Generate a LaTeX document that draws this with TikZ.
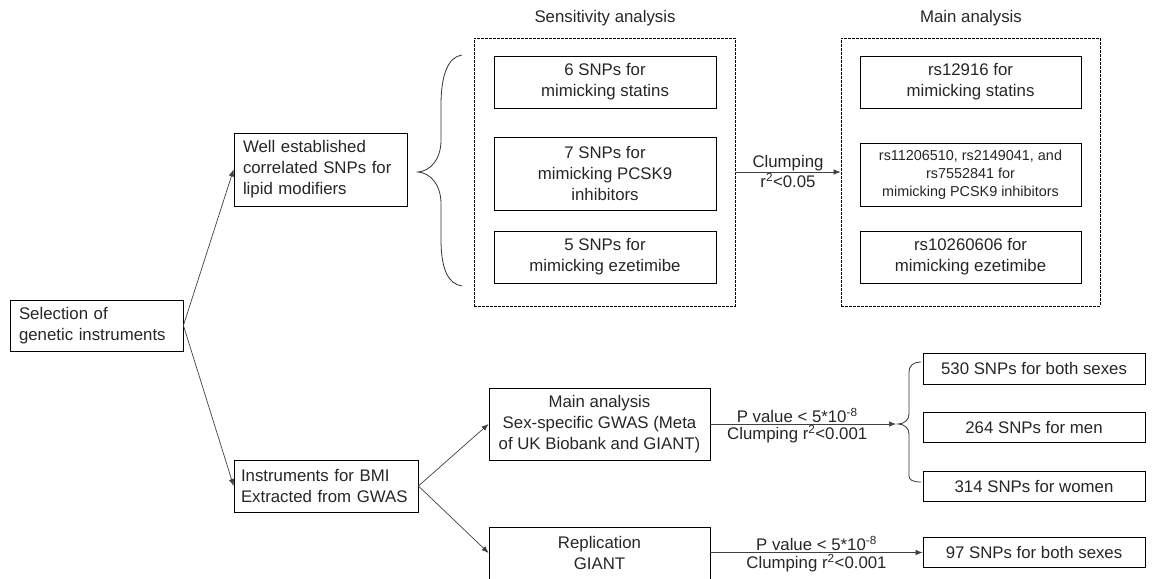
\documentclass[tikz,border=0pt]{standalone}
\usepackage{fontspec}
\setmainfont{Liberation Sans}
\usetikzlibrary{arrows.meta}
\begin{document}
\begin{tikzpicture}[x=1pt,y=-1pt,
  txt/.style={font=\fontsize{16.8}{21}\selectfont, text=black!85},
  box/.style={txt, draw=black, line width=0.8pt, inner sep=0pt, align=center},
  lbox/.style={txt, draw=black, line width=0.8pt, inner ysep=0pt, align=left},
  dbox/.style={draw=black, line width=0.8pt, dash pattern=on 2.6pt off 1.4pt, inner sep=0pt},
  arr/.style={draw=black!75, line width=0.7pt, -{Latex[length=7pt,width=5.5pt]}},
  brc/.style={draw=black!80, line width=0.8pt},
  lab/.style={txt, inner sep=1pt}
]
\useasboundingbox (0,0) rectangle (1153,578);

% left column
\node[lbox, inner xsep=9pt, text width=155pt, minimum height=51pt] (sel) at (96.5,325.5) {Selection of\\genetic instruments};
\node[lbox, inner xsep=9pt, text width=155pt, minimum height=73pt] (well) at (320.5,169.5) {Well established\\correlated SNPs for\\lipid modifiers};
\node[lbox, inner xsep=7pt, text width=170pt, minimum height=52pt] (bmi) at (326,486) {Instruments for BMI\\Extracted from GWAS};

% titles
\node[lab] (tsens) at (605,18) {Sensitivity analysis};
\node[lab] (tmain) at (971,18) {Main analysis};

% dashed containers
\node[dbox, minimum width=261pt, minimum height=268pt] (sens) at (604.5,172) {};
\node[dbox, minimum width=259pt, minimum height=268pt] (main) at (970.5,172) {};

% sensitivity boxes
\node[box, minimum width=222pt, minimum height=52pt] (s1) at (605,82) {6 SNPs for\\mimicking statins};
\node[box, minimum width=222pt, minimum height=73pt] (s2) at (605,173.5) {7 SNPs for\\mimicking PCSK9\\inhibitors};
\node[box, minimum width=222pt, minimum height=52pt] (s3) at (605,257) {5 SNPs for\\mimicking ezetimibe};

% main boxes
\node[box, minimum width=221pt, minimum height=52pt] (m1) at (970.5,82) {rs12916 for\\mimicking statins};
\node[box, minimum width=221pt, minimum height=63pt, font=\fontsize{14.4}{18}\selectfont] (m2) at (970.5,174.5) {rs11206510, rs2149041, and\\rs7552841 for\\mimicking PCSK9 inhibitors};
\node[box, minimum width=221pt, minimum height=52pt] (m3) at (970.5,257) {rs10260606 for\\mimicking ezetimibe};

% BMI branch
\node[box, minimum width=221pt, minimum height=72pt] (mb) at (599.5,424) {Main analysis\\Sex-specific GWAS (Meta\\of UK Biobank and GIANT)};
\node[box, minimum width=221pt, minimum height=52pt] (rep) at (599.5,553) {Replication\\GIANT};

\node[box, minimum width=222pt, minimum height=31pt] (r1) at (1034,368.5) {530 SNPs for both sexes};
\node[box, minimum width=222pt, minimum height=30pt] (r2) at (1034,427) {264 SNPs for men};
\node[box, minimum width=222pt, minimum height=30pt] (r3) at (1034,486) {314 SNPs for women};
\node[box, minimum width=222pt, minimum height=30pt] (r4) at (1034,552.5) {97 SNPs for both sexes};

% braces
\coordinate (b1) at (418,172);
\coordinate (b2) at (898,424);
\draw[brc] (462,55) .. controls (448,57) and (441,75) .. (441,105) -- (441,140)
  .. controls (441,160) and (430,171) .. (b1)
  .. controls (430,173) and (441,184) .. (441,204) -- (441,239)
  .. controls (441,269) and (448,284) .. (462,286);
\draw[brc] (921,362) .. controls (913,362) and (909,366) .. (909,372) -- (909,414)
  .. controls (909,420) and (904,424) .. (b2)
  .. controls (904,424) and (909,428) .. (909,434) -- (909,476)
  .. controls (909,480) and (913,482) .. (921,482);

% connectors
\draw[arr] (sel.east) -- (well.west);
\draw[arr] (sel.east) -- (bmi.west);
\draw[arr] (bmi.east) -- (mb.west);
\draw[arr] (bmi.east) -- (rep.west);

\draw[arr] (sens.east) -- node[lab, above] {Clumping} node[lab, below] {r\textsuperscript{2}<0.05} (main.west);
\draw[arr] (mb.east) -- node[lab, above, xshift=-6pt] {P value < 5*10\textsuperscript{-8}} node[lab, below, xshift=-6pt] {Clumping r\textsuperscript{2}<0.001} ([xshift=-2pt]b2);
\draw[arr] (rep.east |- r4.west) -- node[lab, above] {P value < 5*10\textsuperscript{-8}} node[lab, below] {Clumping r\textsuperscript{2}<0.001} (r4.west);
\end{tikzpicture}
\end{document}
